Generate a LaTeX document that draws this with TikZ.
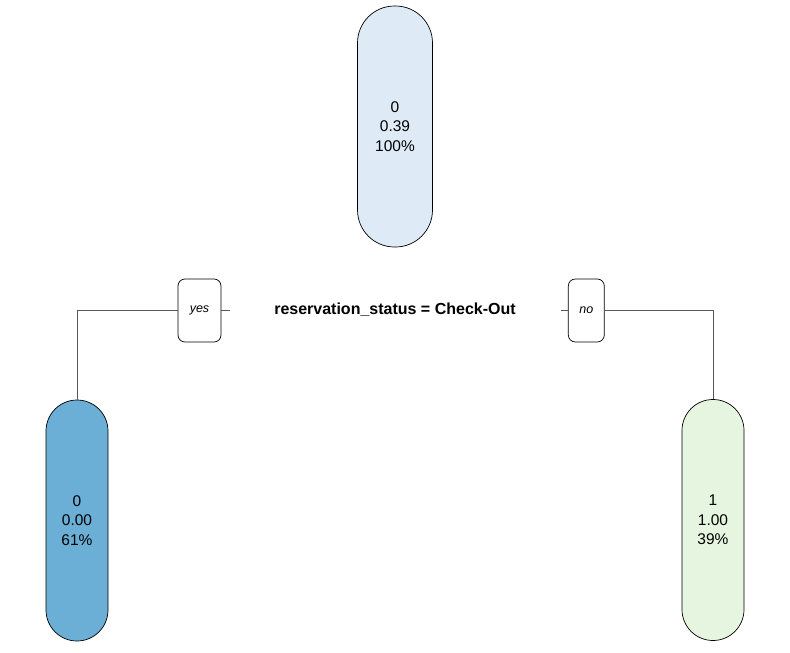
\documentclass[tikz,border=0pt]{standalone}
\usepackage{fontspec}
\setmainfont{Liberation Sans}
\begin{document}
\begin{tikzpicture}[x=1pt,y=-1pt,
  leaf/.style={draw=black, line width=0.7pt, rounded corners=#1, inner sep=0pt, align=center, font=\fontsize{15.5}{19.5}\selectfont},
  lbl/.style={draw=black, line width=0.7pt, fill=white, rounded corners=7pt, minimum height=63pt, inner sep=0pt, font=\fontsize{12.5}{14}\selectfont\itshape},
  conn/.style={draw=black!65, line width=1pt}]
\useasboundingbox (0,0) rectangle (790,653);
\definecolor{topc}{HTML}{DEEBF7}
\definecolor{leftc}{HTML}{6BAED6}
\definecolor{rightc}{HTML}{E5F5E0}
\node[leaf=37pt, fill=topc, minimum width=75pt, minimum height=241pt] (root) at (395,126.5) {0\\0.39\\100\%};
\node[leaf=31pt, fill=leftc, minimum width=62pt, minimum height=241pt] (L) at (77,520.5) {0\\0.00\\61\%};
\node[leaf=31pt, fill=rightc, minimum width=62pt, minimum height=241pt] (R) at (713,520) {1\\1.00\\39\%};
\node[font=\fontsize{16}{18}\selectfont\bfseries] (split) at (395,310) {reservation\_status = Check-Out};
\node[lbl, minimum width=43pt] (yes) at (199.5,310.5) {yes};
\node[lbl, minimum width=36pt] (no) at (586.3,310.5) {no};
\coordinate (ys) at (229.5,310.5);
\coordinate (ns) at (560.5,310.5);
\draw[conn] (yes.west) -| (L.north);
\draw[conn] (yes.east) -- (ys);
\draw[conn] (ns) -- (no.west);
\draw[conn] (no.east) -| (R.north);
\end{tikzpicture}
\end{document}
